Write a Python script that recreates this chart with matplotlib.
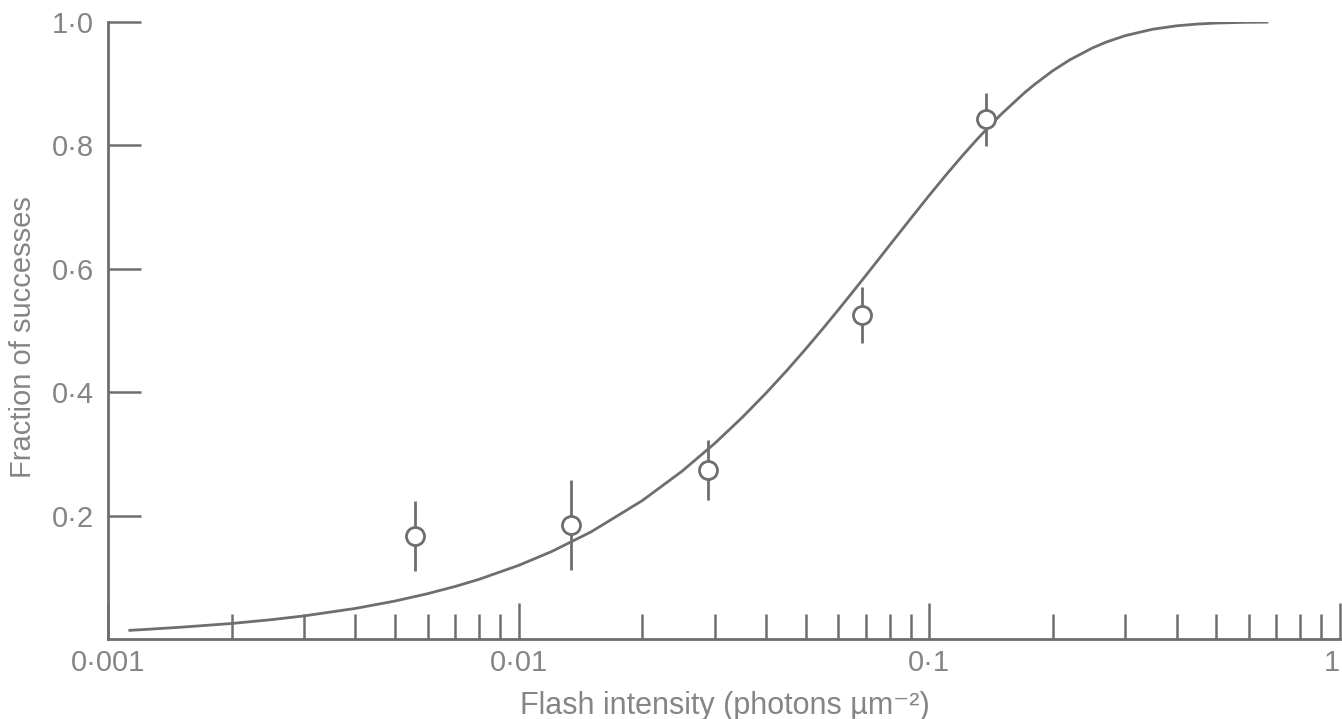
import numpy as np
import matplotlib.pyplot as plt
from matplotlib.ticker import LogLocator, FixedLocator, NullFormatter

# measured points: flash intensity, fraction of successes, error half-width
flash = [0.0056, 0.0134, 0.0289, 0.0687, 0.1377]
frac = [0.167, 0.185, 0.274, 0.525, 0.842]
err = [0.057, 0.073, 0.049, 0.046, 0.043]

# fitted curve
curve_x = [0.00113, 0.00125, 0.0015, 0.002, 0.0025, 0.003, 0.004, 0.005, 0.006,
           0.007, 0.008, 0.01, 0.012, 0.015, 0.02, 0.025, 0.03, 0.035, 0.04,
           0.045, 0.05, 0.055, 0.06, 0.065, 0.07, 0.075, 0.08, 0.09, 0.1, 0.11,
           0.12, 0.13, 0.14, 0.15, 0.17, 0.18, 0.2, 0.22, 0.25, 0.27, 0.3, 0.35,
           0.4, 0.45, 0.5, 0.58, 0.664]
curve_y = [0.014, 0.0157, 0.019, 0.0251, 0.0313, 0.0374, 0.0495, 0.0615, 0.0734,
           0.0851, 0.0966, 0.1193, 0.1414, 0.1735, 0.2243, 0.272, 0.3168, 0.3589,
           0.3983, 0.4353, 0.4701, 0.5027, 0.5333, 0.562, 0.589, 0.6142, 0.638,
           0.6811, 0.7192, 0.7527, 0.7822, 0.8082, 0.831, 0.8512, 0.8846, 0.8983,
           0.9212, 0.9388, 0.9582, 0.9676, 0.9779, 0.9883, 0.9938, 0.9967, 0.9983,
           0.9994, 0.9998]

xticks = [0.001, 0.01, 0.1, 1]
xticklabels = ['0·001', '0·01', '0·1', '1']
yticks = [0.2, 0.4, 0.6, 0.8, 1.0]
yticklabels = ['0·2', '0·4', '0·6', '0·8', '1·0']

ink = '#6e6e6e'
txt = '#858585'
plt.rcParams['font.family'] = ['Liberation Sans', 'DejaVu Sans']

fig = plt.figure(figsize=(13.42, 7.19), dpi=100)
ax = fig.add_axes([0.0805, 0.1113, 0.918, 0.8581])

ax.plot(curve_x, curve_y, color=ink, lw=2.0, zorder=2)
ax.errorbar(flash, frac, yerr=err, fmt='o', ms=13, mfc='white', mec=ink,
            mew=2.0, ecolor=ink, elinewidth=2.0, capsize=0, zorder=3)

ax.set_xscale('log')
ax.set_xlim(0.001, 1)
ax.set_ylim(0, 1)

for s in ['top', 'right']:
    ax.spines[s].set_visible(False)
for s in ['left', 'bottom']:
    ax.spines[s].set_color(ink)
    ax.spines[s].set_linewidth(2.0)
ax.spines['left'].set_bounds(0, 1)

ax.xaxis.set_major_locator(FixedLocator(xticks))
ax.set_xticklabels(xticklabels)
ax.xaxis.set_minor_locator(LogLocator(base=10, subs=np.arange(2, 10)))
ax.xaxis.set_minor_formatter(NullFormatter())
ax.set_yticks(yticks)
ax.set_yticklabels(yticklabels)

ax.tick_params(axis='x', which='major', direction='in', length=26, width=1.8,
               color=ink, labelcolor=txt, labelsize=21, pad=7)
ax.tick_params(axis='x', which='minor', direction='in', length=18, width=1.8,
               color=ink)
ax.tick_params(axis='y', which='major', direction='in', length=24, width=1.8,
               color=ink, labelcolor=txt, labelsize=21, pad=10)
# last label sits on the right edge of the figure
ax.get_xticklabels()[-1].set_horizontalalignment('right')

ax.set_ylabel('Fraction of successes', color=txt, fontsize=21)
ax.yaxis.set_label_coords(-0.058, 0.49)
fig.text(0.5405, 0.018, 'Flash intensity (photons µm⁻²)', color=txt,
         fontsize=22, ha='center', va='center')

fig.savefig('out.png', dpi=100)
